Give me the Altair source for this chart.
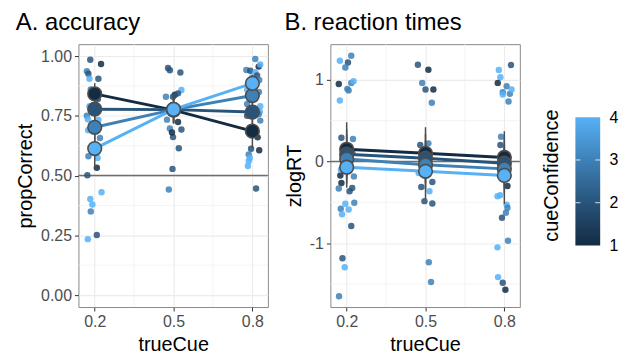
import altair as alt
import pandas as pd

FONT = "Liberation Sans"

# ---------------- Panel A: accuracy (subject-level points) ----------------
a_cue = [0.183, 0.224, 0.170, 0.176, 0.180, 0.214, 0.185, 0.212, 0.180, 0.170,
         0.174, 0.214, 0.190, 0.175, 0.220, 0.205, 0.176, 0.211, 0.208, 0.172,
         0.226, 0.183, 0.191, 0.185, 0.208, 0.174,
         0.479, 0.486, 0.526, 0.471, 0.530, 0.505, 0.517, 0.498, 0.475, 0.517,
         0.530, 0.486, 0.498, 0.494, 0.520, 0.496, 0.482,
         0.811, 0.824, 0.777, 0.792, 0.811, 0.799, 0.818, 0.830, 0.826, 0.780,
         0.825, 0.780, 0.830, 0.828, 0.824, 0.780, 0.830, 0.790, 0.820, 0.795,
         0.826, 0.786, 0.790, 0.786, 0.783, 0.814]
a_prop = [0.985, 0.967, 0.937, 0.926, 0.905, 0.905, 0.860, 0.820, 0.790, 0.750,
          0.736, 0.733, 0.700, 0.690, 0.657, 0.620, 0.581, 0.574, 0.533, 0.501,
          0.430, 0.402, 0.379, 0.350, 0.251, 0.234,
          0.950, 0.941, 0.931, 0.830, 0.858, 0.838, 0.844, 0.830, 0.734, 0.724,
          0.693, 0.697, 0.661, 0.680, 0.614, 0.528, 0.442,
          0.988, 0.956, 0.942, 0.939, 0.933, 0.912, 0.919, 0.965, 0.900, 0.860,
          0.850, 0.800, 0.790, 0.767, 0.757, 0.750, 0.730, 0.700, 0.660, 0.612,
          0.606, 0.588, 0.574, 0.561, 0.540, 0.446]
a_conf = [2, 1, 3, 2, 4, 2, 3, 2, 4, 3,
          4, 4, 4, 4, 3, 3, 3, 4, 1, 2,
          4, 4, 4, 3, 2, 4,
          2, 2, 2, 3, 4, 1, 2, 2, 3, 1,
          2, 3, 2, 1, 2, 2, 3,
          3, 1, 3, 2, 4, 4, 2, 4, 3, 4,
          3, 3, 4, 4, 3, 2, 3, 2, 1, 2,
          1, 3, 4, 4, 4, 2]

# ---------------- Panel B: reaction times (subject-level points) ----------------
b_cue = [0.174, 0.205, 0.2175, 0.195, 0.170, 0.2175, 0.226, 0.2025, 0.2075, 0.174,
         0.180, 0.224, 0.176, 0.180, 0.170, 0.211, 0.221, 0.2275, 0.1775, 0.195,
         0.2075, 0.1825, 0.229, 0.2175, 0.184, 0.1925, 0.171, 0.178, 0.222,
         0.471, 0.511, 0.4875, 0.500, 0.530, 0.524, 0.480, 0.511, 0.474, 0.515,
         0.484, 0.526, 0.496, 0.526, 0.5125, 0.521,
         0.779, 0.825, 0.785, 0.775, 0.794, 0.809, 0.794, 0.821, 0.8275, 0.816,
         0.7875, 0.785, 0.774, 0.784, 0.809, 0.812, 0.791, 0.806, 0.814, 0.774,
         0.776, 0.794, 0.804, 0.811, 0.812]
b_rt = [1.232, 1.212, 1.293, 1.150, 0.949, 0.962, 0.982, 0.889, 0.869, 0.747,
        0.291, 0.275, -0.170, -0.263, -0.331, -0.364, -0.323, -0.182, -0.578, -0.517,
        -0.586, -0.646, -0.505, -0.788, -1.184, -1.293, -1.648, -0.100, 0.100,
        1.184, 1.123, 0.962, 0.881, 0.881, 0.719, 0.202, 0.222, -0.141, -0.364,
        -0.311, -0.251, -0.485, -0.513, -1.232, -1.475,
        1.119, 1.180, 1.030, 0.962, 0.849, 0.921, 0.820, 0.828, 0.881, 0.735,
        0.303, 0.202, -0.424, -0.412, -0.530, -0.566, -0.687, -0.626, -0.970, -1.050,
        -1.414, -1.483, -1.568, -0.200, -0.300]
b_conf = [4, 2, 3, 3, 1, 3, 4, 3, 3, 4,
          2, 3, 1, 1, 3, 2, 2, 3, 3, 4,
          4, 4, 3, 2, 2, 4, 3, 4, 2,
          2, 1, 3, 2, 1, 3, 2, 3, 4, 4,
          2, 2, 2, 2, 3, 3,
          4, 2, 4, 1, 3, 3, 4, 3, 4, 3,
          3, 2, 4, 4, 4, 3, 2, 3, 3, 4,
          4, 2, 1, 1, 1]

# ---------------- Summaries (mean +/- se) ----------------
cues = [0.2, 0.5, 0.8]
confs = [1, 2, 3, 4]
a_mean = {1: [0.842, 0.774, 0.686], 2: [0.778, 0.776, 0.766],
          3: [0.702, 0.776, 0.835], 4: [0.613, 0.777, 0.886]}
a_se = {1: [0.045, 0.055, 0.070], 2: [0.050, 0.050, 0.060],
        3: [0.060, 0.055, 0.050], 4: [0.080, 0.060, 0.035]}
b_mean = {1: [0.150, 0.100, 0.050], 2: [0.090, 0.040, -0.020],
          3: [0.030, -0.040, -0.090], 4: [-0.070, -0.120, -0.170]}
b_se = {1: [0.330, 0.320, 0.320], 2: [0.300, 0.300, 0.300],
        3: [0.300, 0.300, 0.300], 4: [0.250, 0.340, 0.350]}

# axis / grid values
x_major = [0.2, 0.5, 0.8]
x_minor = [0.35, 0.65]
a_y_major = [0.0, 0.25, 0.5, 0.75, 1.0]
a_y_minor = [0.125, 0.375, 0.625, 0.875]
b_y_major = [-1, 0, 1]
b_y_minor = [-1.5, -0.5, 0.5]
a_ref = [0.5]
b_ref = [0.0]
legend_ticks = [1, 2, 3, 4]

X_DOMAIN = [0.138, 0.859]
A_DOMAIN = [-0.05, 1.05]
B_DOMAIN = [-1.78, 1.436]
LEG_DOMAIN = [-0.44, 5.71]
LEG_X_DOMAIN = [0, 25]
LEG_BAR_X = [-7, 18]

LOW, HIGH = "#132B43", "#56B1F7"


# --- Lab interpolation of the gradient (colour styling only) ---
def _hex2rgb(h):
    return [int(h[i:i + 2], 16) / 255 for i in (1, 3, 5)]


def _lin(c):
    return c / 12.92 if c <= 0.04045 else ((c + 0.055) / 1.055) ** 2.4


def _delin(c):
    c = max(0.0, min(1.0, c))
    return 12.92 * c if c <= 0.0031308 else 1.055 * c ** (1 / 2.4) - 0.055


def _to_lab(h):
    r, g, b = [_lin(c) for c in _hex2rgb(h)]
    x = (0.4124 * r + 0.3576 * g + 0.1805 * b) / 0.95047
    y = 0.2126 * r + 0.7152 * g + 0.0722 * b
    z = (0.0193 * r + 0.1192 * g + 0.9505 * b) / 1.08883
    f = lambda t: t ** (1 / 3) if t > 0.008856 else 7.787 * t + 16 / 116
    fx, fy, fz = f(x), f(y), f(z)
    return [116 * fy - 16, 500 * (fx - fy), 200 * (fy - fz)]


def _from_lab(L, a, b):
    fy = (L + 16) / 116
    fx = fy + a / 500
    fz = fy - b / 200
    g = lambda t: t ** 3 if t ** 3 > 0.008856 else (t - 16 / 116) / 7.787
    x, y, z = g(fx) * 0.95047, g(fy), g(fz) * 1.08883
    r = 3.2406 * x - 1.5372 * y - 0.4986 * z
    gg = -0.9689 * x + 1.8758 * y + 0.0415 * z
    bb = 0.0557 * x - 0.2040 * y + 1.0570 * z
    return "#" + "".join("%02x" % round(_delin(c) * 255) for c in (r, gg, bb))


_l0, _l1 = _to_lab(LOW), _to_lab(HIGH)
stops = [alt.GradientStop(offset=k / 8, color=_from_lab(*[p + (q - p) * k / 8 for p, q in zip(_l0, _l1)]))
         for k in range(9)]

color_scale = alt.Scale(domain=[1, 4], range=[LOW, HIGH], interpolate="lab")
BORDER = alt.ViewBackground(stroke="#8A8A8A", strokeWidth=1)


def summ_frame(mean, se):
    rows = []
    for c in confs:
        for i, cue in enumerate(cues):
            rows.append({"trueCue": cue, "conf": c, "m": mean[c][i],
                         "lo": mean[c][i] - se[c][i], "hi": mean[c][i] + se[c][i]})
    return pd.DataFrame(rows)


def panel(title, ytitle, pts, summ, ydomain, ymajor, yminor, ref, ylab_expr):
    xs = alt.Scale(domain=X_DOMAIN, nice=False, zero=False)
    ys = alt.Scale(domain=ydomain, nice=False, zero=False)
    xax = alt.Axis(values=x_major, format=".1f", title="trueCue")
    yax = alt.Axis(values=ymajor, title=ytitle, labelExpr=ylab_expr)
    col = alt.Color("conf:Q", scale=color_scale, legend=None)

    minor_x = alt.Chart(pd.DataFrame({"v": x_minor})).mark_rule(
        color="#EFEFEF", strokeWidth=0.7).encode(x=alt.X("v:Q", scale=xs, axis=xax))
    minor_y = alt.Chart(pd.DataFrame({"v": yminor})).mark_rule(
        color="#EFEFEF", strokeWidth=0.7).encode(y=alt.Y("v:Q", scale=ys, axis=yax))
    hline = alt.Chart(pd.DataFrame({"v": ref})).mark_rule(
        color="#6E6E6E", strokeWidth=1.5).encode(y=alt.Y("v:Q", scale=ys, axis=yax))
    dots = alt.Chart(pts).mark_circle(size=42, opacity=0.85).encode(
        x=alt.X("x:Q", scale=xs, axis=xax),
        y=alt.Y("y:Q", scale=ys, axis=yax), color=col)
    err = alt.Chart(summ).mark_rule(color="#4D4D4D", strokeWidth=1.5).encode(
        x=alt.X("trueCue:Q", scale=xs, axis=xax),
        y=alt.Y("lo:Q", scale=ys, axis=yax), y2="hi:Q")
    lines = alt.Chart(summ).mark_line(strokeWidth=3).encode(
        x=alt.X("trueCue:Q", scale=xs, axis=xax),
        y=alt.Y("m:Q", scale=ys, axis=yax), color=col, detail="conf:N")
    big = alt.Chart(summ).mark_circle(size=190, opacity=1, stroke="#4D4D4D",
                                      strokeWidth=1.6).encode(
        x=alt.X("trueCue:Q", scale=xs, axis=xax),
        y=alt.Y("m:Q", scale=ys, axis=yax), color=col,
        order=alt.Order("conf:Q"))
    return alt.layer(minor_x, minor_y, hline, dots, err, lines, big).properties(
        width=191, height=265, view=BORDER,
        title=alt.TitleParams(title, anchor="start", fontSize=24, font=FONT,
                              fontWeight="normal", color="black", offset=9))


ptsA = pd.DataFrame({"x": a_cue, "y": a_prop, "conf": a_conf})
ptsB = pd.DataFrame({"x": b_cue, "y": b_rt, "conf": b_conf})

pA = panel("A. accuracy", "propCorrect", ptsA, summ_frame(a_mean, a_se),
           A_DOMAIN, a_y_major, a_y_minor, a_ref, "format(datum.value, '.2f')")
pB = panel("B. reaction times", "zlogRT", ptsB, summ_frame(b_mean, b_se),
           B_DOMAIN, b_y_major, b_y_minor, b_ref, "'' + datum.value")

# ---------------- colour bar legend ----------------
ls = alt.Scale(domain=LEG_DOMAIN, nice=False, zero=False)
lxs = alt.Scale(domain=LEG_X_DOMAIN, nice=False, zero=False)
leg_axis = alt.Axis(values=legend_ticks, orient="right", grid=False, ticks=False,
                    domain=False, labelColor="black", labelPadding=2, title=None,
                    format="d")
bar_df = pd.DataFrame({"lo": [min(legend_ticks)], "hi": [max(legend_ticks)],
                       "x0": [LEG_BAR_X[0]], "x1": [LEG_BAR_X[1]]})
bar = alt.Chart(bar_df).mark_rect(
    color=alt.LinearGradient(gradient="linear", stops=stops, x1=0, x2=0, y1=1, y2=0)
).encode(x=alt.X("x0:Q", scale=lxs, axis=None), x2="x1:Q",
         y=alt.Y("lo:Q", scale=ls, axis=leg_axis), y2="hi:Q")
tick_df = pd.DataFrame({"v": legend_ticks[1:-1]})
bar_ticks_l = alt.Chart(tick_df).mark_rule(color="white", strokeWidth=1, opacity=0.8).encode(
    y=alt.Y("v:Q", scale=ls, axis=leg_axis), x=alt.value(-7), x2=alt.value(-2))
bar_ticks_r = alt.Chart(tick_df).mark_rule(color="white", strokeWidth=1, opacity=0.8).encode(
    y=alt.Y("v:Q", scale=ls, axis=leg_axis), x=alt.value(13), x2=alt.value(18))
legend_chart = alt.layer(bar, bar_ticks_l, bar_ticks_r).properties(
    width=25, height=265,
    view=alt.ViewBackground(strokeOpacity=0),
    title=alt.TitleParams("cueConfidence", orient="left", anchor="middle", fontSize=20,
                          font=FONT, fontWeight="normal", color="black", offset=13))

chart = alt.hconcat(pA, pB, legend_chart, spacing=63, bounds="flush").configure_axis(
    grid=True, gridColor="#EBEBEB", gridWidth=1.1, domain=False,
    tickColor="#333333", tickSize=4, tickWidth=1,
    labelFont=FONT, labelFontSize=16, labelColor="#4D4D4D", labelPadding=3,
    titleFont=FONT, titleFontSize=20, titleFontWeight="normal", titleColor="black",
    titlePadding=5
).properties(background="white", padding={"left": 7, "top": 1, "right": 5, "bottom": 5})

chart.save("out.html", embed_options={"renderer": "svg", "actions": False})
